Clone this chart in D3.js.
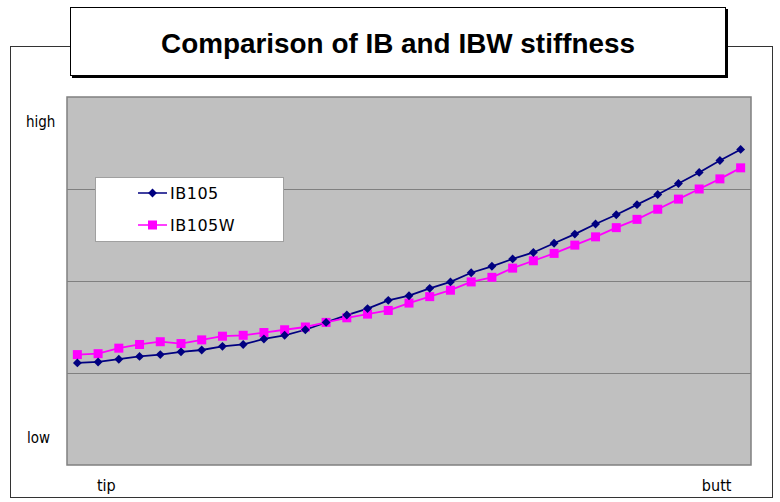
<!DOCTYPE html>
<html>
<head>
<meta charset="utf-8">
<script src="https://cdn.jsdelivr.net/npm/d3@7"></script>
<style>
  body { margin: 0; background: #fff; }
  svg { display: block; }
</style>
</head>
<body>
<script>
// positions along the blank, tip -> butt
const positions = d3.range(1, 34);
const ib105  = [11.1, 11.2, 11.5, 11.8, 12.0, 12.3, 12.5, 12.9, 13.1, 13.7, 14.1, 14.7, 15.5, 16.3, 17.0, 17.9, 18.4,
                19.2, 19.9, 20.9, 21.6, 22.4, 23.1, 24.1, 25.1, 26.2, 27.2, 28.3, 29.4, 30.6, 31.8, 33.1, 34.3];
const ib105w = [12.0, 12.1, 12.7, 13.1, 13.4, 13.2, 13.6, 14.0, 14.1, 14.4, 14.7, 15.0, 15.5, 16.0, 16.4, 16.8, 17.6,
                18.3, 19.0, 19.9, 20.4, 21.4, 22.2, 23.0, 23.9, 24.8, 25.8, 26.7, 27.8, 28.9, 30.0, 31.1, 32.3];
const seriesNames = ["IB105", "IB105W"];
const gridTicks = [10, 20, 30];

const w = 780;
const h = 502;
const plot = {left: 67, right: 751, top: 97, bottom: 465};

const svg = d3.select("body")
              .append("svg")
              .attr("width", w)
              .attr("height", h);

// outer chart border
svg.append("rect")
   .attr("x", 10.5).attr("y", 46.5)
   .attr("width", 762).attr("height", 451)
   .attr("fill", "#fff")
   .attr("stroke", "#333")
   .attr("stroke-width", 1);

const xScale = d3.scalePoint()
                 .domain(positions)
                 .range([plot.left, plot.right])
                 .padding(0.5);

const yScale = d3.scaleLinear()
                 .domain([0, 40])
                 .range([plot.bottom, plot.top]);

// plot area
svg.append("rect")
   .attr("x", plot.left).attr("y", plot.top)
   .attr("width", plot.right - plot.left)
   .attr("height", plot.bottom - plot.top)
   .attr("fill", "#c0c0c0")
   .attr("stroke", "#808080")
   .attr("stroke-width", 1.5);

svg.selectAll("line.grid")
   .data(gridTicks)
   .enter()
   .append("line")
   .attr("class", "grid")
   .attr("x1", plot.left).attr("x2", plot.right)
   .attr("y1", (d) => Math.round(yScale(d)) + 0.5)
   .attr("y2", (d) => Math.round(yScale(d)) + 0.5)
   .attr("stroke", "#808080")
   .attr("stroke-width", 1);

const line = d3.line()
               .x((d, i) => xScale(positions[i]))
               .y((d) => yScale(d));

// IB105 (navy, diamonds)
svg.append("path")
   .datum(ib105)
   .attr("d", line)
   .attr("fill", "none")
   .attr("stroke", "#000080")
   .attr("stroke-width", 1.8);

// IB105W (magenta, squares)
svg.append("path")
   .datum(ib105w)
   .attr("d", line)
   .attr("fill", "none")
   .attr("stroke", "#ff00ff")
   .attr("stroke-width", 1.8);

svg.selectAll("rect.sq")
   .data(ib105w)
   .enter()
   .append("rect")
   .attr("class", "sq")
   .attr("x", (d, i) => xScale(positions[i]) - 4.5)
   .attr("y", (d) => yScale(d) - 4.5)
   .attr("width", 9).attr("height", 9)
   .attr("fill", "#ff00ff");

const diamond = d3.symbol().type(d3.symbolDiamond2).size(50);

svg.selectAll("path.dia")
   .data(ib105)
   .enter()
   .append("path")
   .attr("class", "dia")
   .attr("d", diamond)
   .attr("transform", (d, i) => "translate(" + xScale(positions[i]) + "," + yScale(d) + ")")
   .attr("fill", "#000080");

// legend
const legend = svg.append("g");
legend.append("rect")
      .attr("x", 95.5).attr("y", 177.5)
      .attr("width", 188).attr("height", 64)
      .attr("fill", "#fff")
      .attr("stroke", "#a0a0a0");

const legendY = [193, 225];
const legendColors = ["#000080", "#ff00ff"];
legend.selectAll("line")
      .data(seriesNames)
      .enter()
      .append("line")
      .attr("x1", 138).attr("x2", 167)
      .attr("y1", (d, i) => legendY[i])
      .attr("y2", (d, i) => legendY[i])
      .attr("stroke", (d, i) => legendColors[i])
      .attr("stroke-width", 1.5);

legend.append("path")
      .attr("d", diamond)
      .attr("transform", "translate(152.5," + legendY[0] + ")")
      .attr("fill", "#000080");

legend.append("rect")
      .attr("x", 148).attr("y", legendY[1] - 4.5)
      .attr("width", 9).attr("height", 9)
      .attr("fill", "#ff00ff");

legend.selectAll("text")
      .data(seriesNames)
      .enter()
      .append("text")
      .attr("x", 170)
      .attr("y", (d, i) => legendY[i] + 6)
      .attr("font-family", "DejaVu Sans, Verdana, sans-serif")
      .attr("font-size", 16)
      .attr("letter-spacing", 0.5)
      .attr("fill", "#000")
      .text((d) => d);

// axis words
const axisFont = "DejaVu Sans Condensed, DejaVu Sans, sans-serif";
svg.append("text")
   .attr("x", 26).attr("y", 127)
   .attr("font-family", axisFont).attr("font-size", 15)
   .text("high");

svg.append("text")
   .attr("x", 27).attr("y", 443)
   .attr("font-family", axisFont).attr("font-size", 15)
   .text("low");

svg.append("text")
   .attr("x", xScale(positions[0]) + 29)
   .attr("y", 491)
   .attr("text-anchor", "middle")
   .attr("font-family", axisFont).attr("font-size", 16)
   .text("tip");

svg.append("text")
   .attr("x", xScale(positions[positions.length - 1]) - 24)
   .attr("y", 491)
   .attr("text-anchor", "middle")
   .attr("font-family", axisFont).attr("font-size", 16)
   .text("butt");

// title box
svg.append("rect")
   .attr("x", 72).attr("y", 9)
   .attr("width", 656).attr("height", 69)
   .attr("fill", "#000");
svg.append("rect")
   .attr("x", 70.5).attr("y", 7.5)
   .attr("width", 655).attr("height", 68)
   .attr("fill", "#fff")
   .attr("stroke", "#000")
   .attr("stroke-width", 1);

svg.append("text")
   .attr("x", 398).attr("y", 53)
   .attr("text-anchor", "middle")
   .attr("font-family", "Liberation Sans, Arial, sans-serif")
   .attr("font-weight", "bold")
   .attr("font-size", 27)
   .attr("textLength", 474)
   .attr("lengthAdjust", "spacingAndGlyphs")
   .text("Comparison of IB and IBW stiffness");
</script>
</body>
</html>
